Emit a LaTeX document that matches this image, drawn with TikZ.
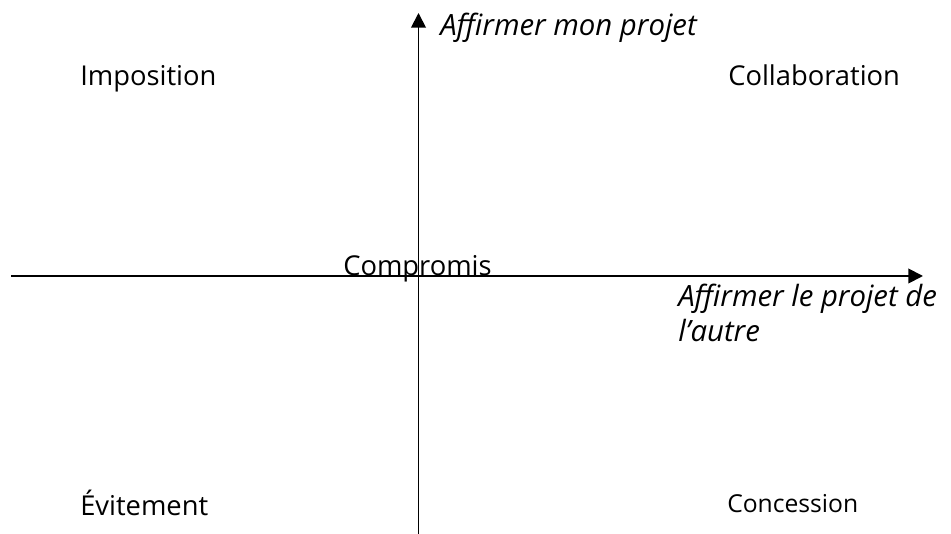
\documentclass[tikz,border=0pt]{standalone}
\usepackage{fontspec}
\setmainfont{Open Sans}
\usetikzlibrary{arrows.meta}
\begin{document}
\begin{tikzpicture}[x=0.75pt,y=-0.75pt,
  axis/.style={line width=1.4pt,-{Triangle[length=11pt,width=11pt]}},
  quad/.style={font=\fontsize{20.5}{24}\selectfont,anchor=base west,inner sep=0pt},
  axislabel/.style={font=\fontsize{22}{26.25}\selectfont\itshape,anchor=base west,inner sep=0pt,align=left}]
  \useasboundingbox (0,0) rectangle (951,534);
  % axes
  \coordinate (xs) at (11,276);
  \coordinate (xe) at (923,276);
  \coordinate (ys) at (418.5,534);
  \coordinate (ye) at (418.5,13);
  \draw[axis] (xs) -- (xe);
  \draw[axis] (ys) -- (ye);
  % axis labels (base anchor of a two-line node sits on its last line)
  \node[axislabel] (ylab) at (440,36) {Affirmer mon projet};
  \node[axislabel] (xlab) at (678,342) {Affirmer le projet de\\l’autre};
  % quadrant labels
  \node[quad] (imp) at (80,86) {Imposition};
  \node[quad] (col) at (728,86) {Collaboration};
  \node[quad] (cmp) at (343,276) {Compromis};
  \node[quad] (evi) at (80,516) {Évitement};
  \node[quad,font=\fontsize{18.5}{22}\selectfont] (con) at (727,513) {Concession};
\end{tikzpicture}
\end{document}
